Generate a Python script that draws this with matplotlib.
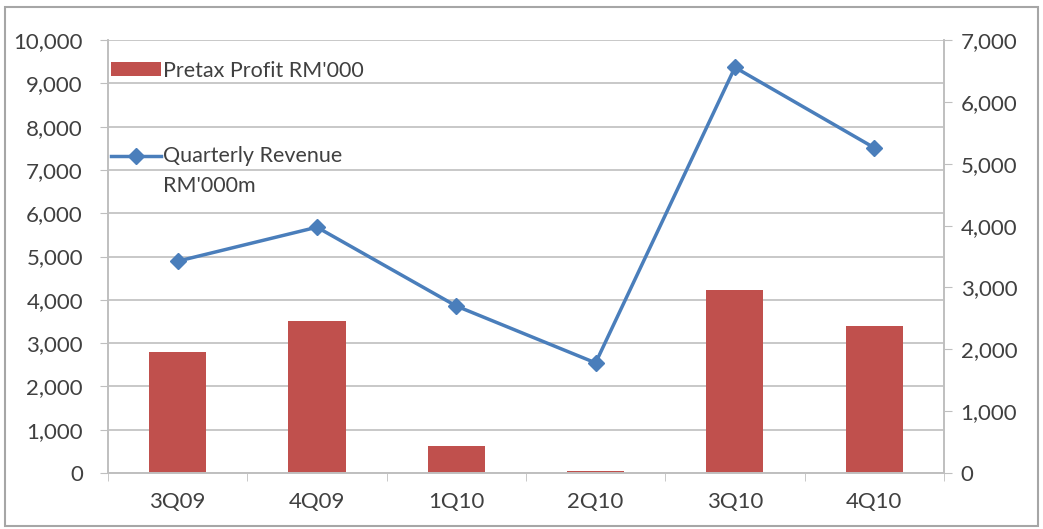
import matplotlib.pyplot as plt
import matplotlib.transforms as mtransforms
from matplotlib.legend_handler import HandlerLine2D
from matplotlib.patches import Rectangle
from matplotlib.ticker import FuncFormatter, MultipleLocator

quarters = ["3Q09", "4Q09", "1Q10", "2Q10", "3Q10", "4Q10"]
pretax_profit = [2800, 3510, 625, 50, 4225, 3390]
quarterly_revenue = [3425, 3975, 2700, 1780, 6560, 5260]

bar_color = "#C0504D"
line_color = "#4A7EBB"
grid_color = "#BFBFBF"
text_color = "#404040"

plt.rcParams["font.family"] = ["Lato", "DejaVu Sans"]
plt.rcParams["font.size"] = 16


# keep the line handle level with the first line of a two-line label
class RaisedLine(HandlerLine2D):
    def __init__(self, shift, **kw):
        super().__init__(**kw)
        self.shift = shift

    def create_artists(self, legend, orig_handle, xdescent, ydescent,
                       width, height, fontsize, trans):
        trans = mtransforms.Affine2D().translate(0, self.shift) + trans
        return super().create_artists(legend, orig_handle, xdescent, ydescent,
                                      width, height, fontsize, trans)


fig = plt.figure(figsize=(10.43, 5.29), dpi=100)
ax = fig.add_axes([0.1035, 0.106, 0.8015, 0.818])
ax2 = ax.twinx()

x = range(len(quarters))
bars = ax.bar(x, pretax_profit, width=0.41, color=bar_color, zorder=2,
              label="Pretax Profit RM'000")
line, = ax2.plot(x, quarterly_revenue, color=line_color, linewidth=2.5,
                 marker="D", markersize=8.5, zorder=3,
                 label="Quarterly Revenue\nRM'000m")

fmt = FuncFormatter(lambda v, p: f"{int(v):,}")
ax.set_ylim(0, 10000)
ax.yaxis.set_major_locator(MultipleLocator(1000))
ax.yaxis.set_major_formatter(fmt)
ax2.set_ylim(0, 7000)
ax2.yaxis.set_major_locator(MultipleLocator(1000))
ax2.yaxis.set_major_formatter(fmt)

ax.set_xlim(-0.5, len(quarters) - 0.5)
ax.set_xticks(list(x))
ax.set_xticklabels(quarters)
ax.set_xticks([i + 0.5 for i in range(-1, len(quarters))], minor=True)
ax.tick_params(axis="x", which="major", length=0, pad=14, colors=text_color)
ax.tick_params(axis="x", which="minor", length=6, color=grid_color)
ax.tick_params(axis="y", length=6, color=grid_color, colors=text_color, pad=12)
ax2.tick_params(axis="y", length=6, color=grid_color, colors=text_color, pad=6)

ax.grid(axis="y", color=grid_color, linewidth=1.2, zorder=0)
ax.set_axisbelow(True)

for a in (ax, ax2):
    a.spines["top"].set_visible(False)
    for s in ("left", "right", "bottom"):
        a.spines[s].set_color(grid_color)
        a.spines[s].set_linewidth(1.2)

ax.set_zorder(ax2.get_zorder() - 1)
ax.patch.set_visible(False)

leg1 = ax2.legend(handles=[bars], loc="upper left", frameon=False,
                  bbox_to_anchor=(-0.019, 0.997), handlelength=2.3,
                  handleheight=0.6, handletextpad=0.1, labelcolor=text_color,
                  fontsize=15.5)
ax2.add_artist(leg1)
leg2 = ax2.legend(handles=[line], loc="upper left", frameon=False,
                  bbox_to_anchor=(-0.019, 0.80), handlelength=2.3,
                  handletextpad=0.1, labelcolor=text_color, fontsize=15.5,
                  handler_map={line: RaisedLine(shift=11)})
for t in leg2.get_texts():
    t.set_linespacing(1.6)

fig.patches.append(Rectangle((0.005, 0.006), 0.99, 0.98, transform=fig.transFigure,
                             fill=False, edgecolor="#A6A6A6", linewidth=1.5))

fig.savefig("out.png", dpi=100)
